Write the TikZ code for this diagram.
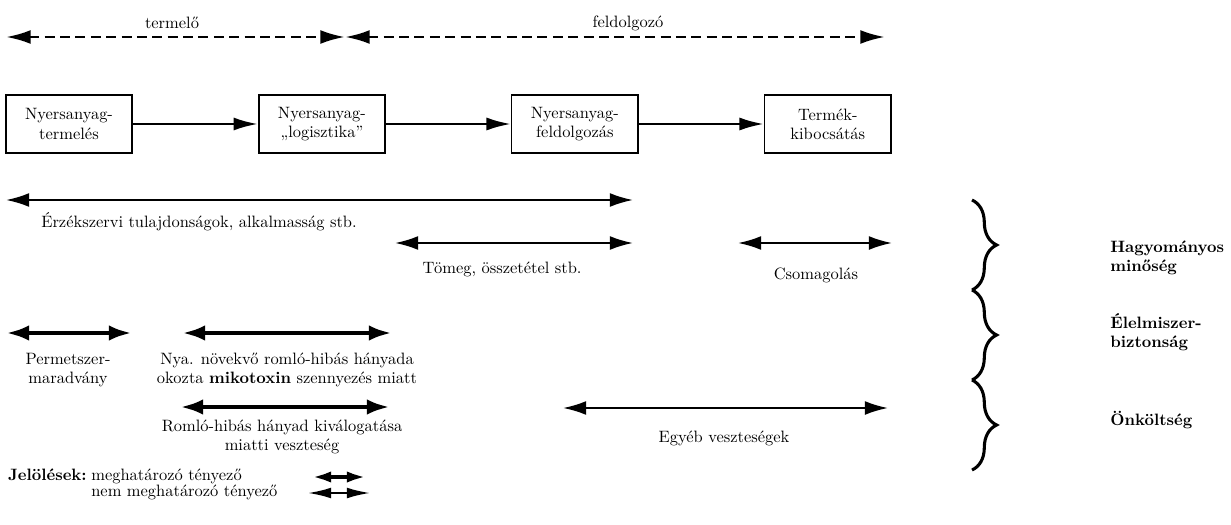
\documentclass[tikz,border=0pt]{standalone}
\usepackage{amsmath, amssymb}
\usetikzlibrary{arrows.meta,positioning,decorations.pathreplacing}

\begin{document}
\begin{tikzpicture}[x=0.65pt, y=-0.65pt, font=\fontsize{10.7}{12.4}\selectfont,
  box/.style={draw, line width=0.9pt, minimum width=82pt, minimum height=37.7pt, align=center, inner sep=2pt},
  flow/.style={line width=1.8pt, -{Latex[length=16pt,width=8.5pt]}},
  role/.style={line width=1.8pt, dash pattern=on 6.5pt off 3.5pt, {Latex[length=16pt,width=9pt]}-{Latex[length=16pt,width=9pt]}},
  thinspan/.style={line width=1.3pt, {Latex[length=15pt,width=9pt]}-{Latex[length=15pt,width=9pt]}},
  thickspan/.style={line width=3pt, {Latex[length=15pt,width=10pt]}-{Latex[length=15pt,width=10pt]}},
  lbl/.style={align=center, inner sep=0pt},
  aspect/.style={font=\fontsize{10.7}{12.4}\selectfont\bfseries, align=left, anchor=west, inner sep=0pt},
  brc/.style={line width=2pt, decorate, decoration={brace, amplitude=16pt}}]
  \useasboundingbox (0,0) rectangle (1231,525);

  % szereplok
  \coordinate (ter-l) at (6,37);
  \coordinate (ter-r) at (345,37);
  \coordinate (fel-l) at (345,37);
  \coordinate (fel-r) at (885,37);
  \draw[role] (ter-l) -- (ter-r);
  \draw[role] (fel-l) -- (fel-r);
  \node[lbl] (termelo) at (172,23) {termelő};
  \node[lbl] (feldolgozo) at (628,23) {feldolgozó};

  % folyamat
  \node[box] (nyterm) at (69,124) {Nyersanyag-\\termelés};
  \node[box, right=81.5pt of nyterm] (nylog) {Nyersanyag-\\„logisztika”};
  \node[box, right=81.5pt of nylog] (nyfeld) {Nyersanyag-\\feldolgozás};
  \node[box, right=81.5pt of nyfeld] (termek) {Termék-\\kibocsátás};

  \draw[flow] (nyterm) -- (nylog);
  \draw[flow] (nylog) -- (nyfeld);
  \draw[flow] (nyfeld) -- (termek);

  % hagyomanyos minoseg
  \coordinate (erz-l) at (6,200);
  \coordinate (erz-r) at (633,200);
  \draw[thinspan] (erz-l) -- (erz-r);
  \node[lbl] (erz) at (199,222) {Érzékszervi tulajdonságok, alkalmasság stb.};

  \coordinate (tom-l) at (395,243);
  \coordinate (tom-r) at (633,243);
  \draw[thinspan] (tom-l) -- (tom-r);
  \node[lbl] (tom) at (502,269) {Tömeg, összetétel stb.};

  \coordinate (cso-l) at (738,243);
  \coordinate (cso-r) at (892,243);
  \draw[thinspan] (cso-l) -- (cso-r);
  \node[lbl] (cso) at (816,275) {Csomagolás};

  % elelmiszerbiztonsag
  \coordinate (per-l) at (6,333);
  \coordinate (per-r) at (132,333);
  \draw[thickspan] (per-l) -- (per-r);
  \node[lbl] (per) at (68,370) {Permetszer-\\maradvány};

  \coordinate (mik-l) at (182,333);
  \coordinate (mik-r) at (392,333);
  \draw[thickspan] (mik-l) -- (mik-r);
  \node[lbl] (mik) at (287,370) {Nya. növekvő romló-hibás hányada\\okozta \textbf{mikotoxin} szennyezés miatt};

  % onkoltseg
  \coordinate (rom-l) at (180,407);
  \coordinate (rom-r) at (390,407);
  \draw[thickspan] (rom-l) -- (rom-r);
  \node[lbl] (rom) at (282,437) {Romló-hibás hányad kiválogatása\\miatti veszteség};

  \coordinate (egy-l) at (563,408);
  \coordinate (egy-r) at (888,408);
  \draw[thinspan] (egy-l) -- (egy-r);
  \node[lbl] (egy) at (724,438) {Egyéb veszteségek};

  % kapcsos zarojelek
  \draw[brc] (972,200) -- (972,290);
  \draw[brc] (972,290) -- (972,380);
  \draw[brc] (972,380) -- (972,470);
  \node[aspect] (hagy) at (1110,258) {Hagyományos\\minőség};
  \node[aspect] (elm) at (1110,332) {Élelmiszer-\\biztonság};
  \node[aspect] (onk) at (1110,420) {Önköltség};

  % jelolesek
  \node[lbl, anchor=base east] (jel) at (87,480) {\textbf{Jelölések:}};
  \node[lbl, anchor=base west] (jel1) at (91,480) {meghatározó tényező};
  \node[lbl, anchor=base west] (jel2) at (91,496) {nem meghatározó tényező};
  \coordinate (j1-l) at (308,477);
  \coordinate (j1-r) at (370,477);
  \coordinate (j2-l) at (308,493);
  \coordinate (j2-r) at (370,493);
  \draw[thickspan, {Latex[length=15pt,width=7pt]}-{Latex[length=15pt,width=7pt]}] (j1-l) -- (j1-r);
  \draw[thinspan, {Latex[length=15pt,width=7pt]}-{Latex[length=15pt,width=7pt]}] (j2-l) -- (j2-r);
\end{tikzpicture}
\end{document}
